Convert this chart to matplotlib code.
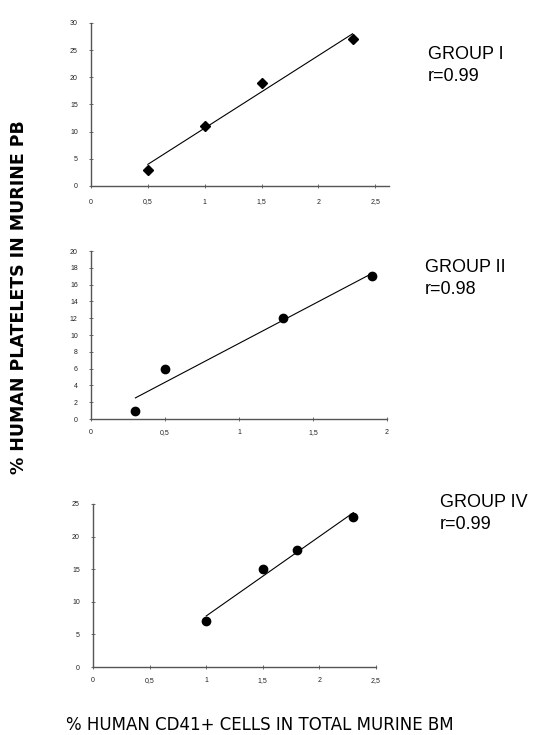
import numpy as np
import matplotlib
matplotlib.use('Agg')
from matplotlib import pyplot as plt

plt.rcParams['font.family'] = ['Liberation Sans', 'DejaVu Sans']

# data
x_g1 = [0.5, 1.0, 1.5, 2.3]
y_g1 = [3, 11, 19, 27]
x_g2 = [0.3, 0.5, 1.3, 1.9]
y_g2 = [1, 6, 12, 17]
x_g4 = [1.0, 1.5, 1.8, 2.3]
y_g4 = [7, 15, 18, 23]

labels = ['GROUP I\nr=0.99', 'GROUP II\nr=0.98', 'GROUP IV\nr=0.99']

W, H = 544, 735
fig = plt.figure(figsize=(W / 100, H / 100), dpi=100)


def px_axes(left, right, top, bottom):
    return fig.add_axes([left / W, 1 - bottom / H, (right - left) / W, (bottom - top) / H])


def panel(ax, xs, ys, marker, ms, xlim, xticks, xticklabels, ylim, yticks, yticklabels, xpad=6):
    coef = np.polyfit(xs, ys, 1)
    fx = np.array([min(xs), max(xs)])
    ax.plot(fx, np.polyval(coef, fx), color='black', lw=0.8)
    ax.plot(xs, ys, linestyle='None', marker=marker, ms=ms, color='black')
    ax.set_xlim(*xlim)
    ax.set_ylim(*ylim)
    ax.set_xticks(xticks)
    ax.set_xticklabels(xticklabels)
    ax.set_yticks(yticks)
    ax.set_yticklabels(yticklabels)
    for s in ['top', 'right']:
        ax.spines[s].set_visible(False)
    for s in ['left', 'bottom']:
        ax.spines[s].set_color('#555555')
        ax.spines[s].set_linewidth(1.0)
    ax.tick_params(axis='both', direction='inout', length=3, width=0.6, color='#555555',
                   labelsize=5, labelcolor='#222222')
    ax.tick_params(axis='x', pad=xpad)
    ax.tick_params(axis='y', pad=8)
    ax.patch.set_alpha(0)


ax1 = px_axes(91, 389, 23, 186)
panel(ax1, x_g1, y_g1, 'D', 5, (0, 2.62), [0, 0.5, 1, 1.5, 2, 2.5],
      ['0', '0,5', '1', '1,5', '2', '2,5'], (0, 30), range(0, 31, 5),
      [str(v) for v in range(0, 31, 5)], xpad=7.5)

ax2 = px_axes(91, 387, 251, 419)
panel(ax2, x_g2, y_g2, 'o', 6, (0, 2), [0, 0.5, 1, 1.5, 2],
      ['0', '0,5', '1', '1,5', '2'], (0, 20), range(0, 21, 2),
      [str(v) for v in range(0, 21, 2)], xpad=5.5)

ax3 = px_axes(93, 376, 504, 667)
panel(ax3, x_g4, y_g4, 'o', 6, (0, 2.5), [0, 0.5, 1, 1.5, 2, 2.5],
      ['0', '0,5', '1', '1,5', '2', '2,5'], (0, 25), range(0, 26, 5),
      [str(v) for v in range(0, 26, 5)], xpad=6)

fig.text(428 / W, 1 - 46 / H, labels[0], fontsize=13, va='top', ha='left', linespacing=1.35)
fig.text(425 / W, 1 - 259 / H, labels[1], fontsize=13, va='top', ha='left', linespacing=1.35)
fig.text(440 / W, 1 - 494 / H, labels[2], fontsize=13, va='top', ha='left', linespacing=1.35)

fig.text(19 / W, 1 - 297 / H, '% HUMAN PLATELETS IN MURINE PB', rotation=90,
         family='DejaVu Sans', fontsize=12.5, fontweight='bold', ha='center', va='center')
fig.text(260 / W, 1 - 730 / H, '% HUMAN CD41+ CELLS IN TOTAL MURINE BM',
         family='DejaVu Sans', fontsize=12, ha='center', va='baseline')

fig.savefig('out.png', dpi=100, facecolor='white')
